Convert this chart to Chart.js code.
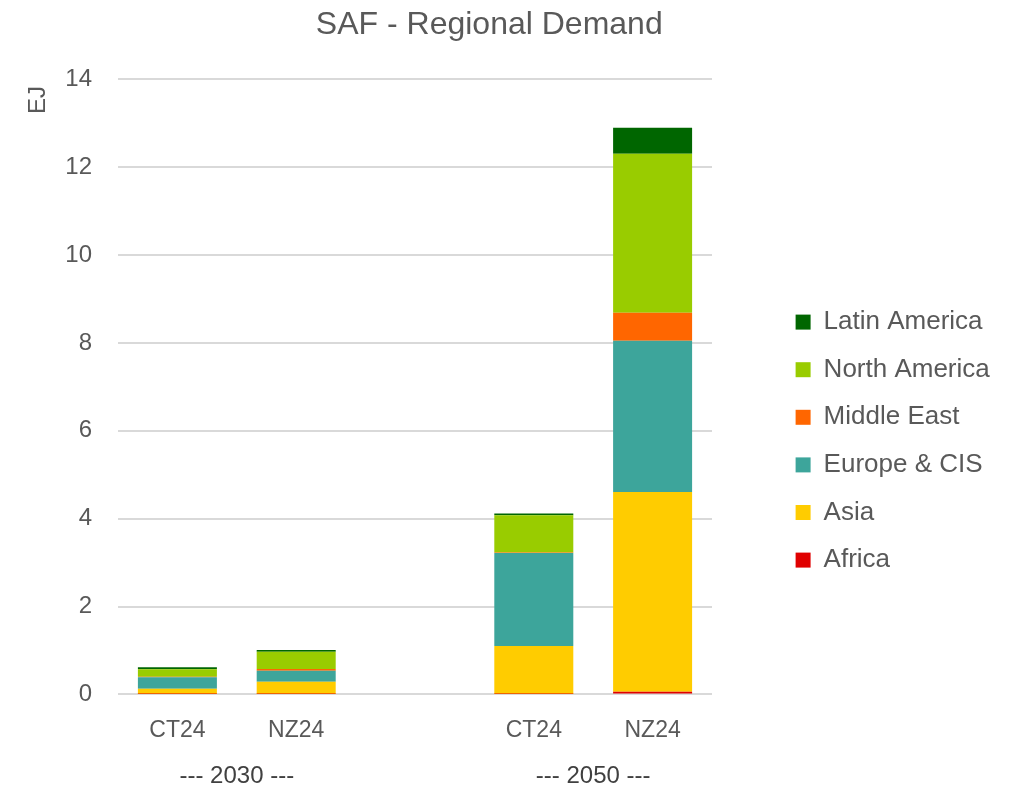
<!DOCTYPE html>
<html>
<head>
<meta charset="utf-8">
<script src="https://cdn.jsdelivr.net/npm/chart.js@4"></script>
<style>
  html, body { margin: 0; padding: 0; background: #ffffff; }
  #wrap { width: 1023px; height: 788px; }
</style>
</head>
<body>
<div id="wrap"><canvas id="c" width="1023" height="788"></canvas></div>
<script>
const categories = ['CT24', 'NZ24', '', 'CT24', 'NZ24'];
const groupLabels = ['--- 2030 ---', '--- 2050 ---'];
const seriesNames = ['Africa', 'Asia', 'Europe & CIS', 'Middle East', 'North America', 'Latin America'];
const africa       = [0.01, 0.01, null, 0.01, 0.06];
const asia         = [0.12, 0.28, null, 1.09, 4.55];
const europeCIS    = [0.26, 0.25, null, 2.12, 3.44];
const middleEast   = [0.01, 0.04, null, 0.01, 0.64];
const northAmerica = [0.17, 0.39, null, 0.85, 3.62];
const latinAmerica = [0.05, 0.04, null, 0.04, 0.59];
const yTicks = [0, 2, 4, 6, 8, 10, 12, 14];

const colors = ['#E00000', '#FFCC00', '#3DA59B', '#FF6600', '#99CC00', '#006600'];
const seriesValues = [africa, asia, europeCIS, middleEast, northAmerica, latinAmerica];

const FONT = '"Liberation Sans", Arial, sans-serif';
const TXT = '#595959';
const PLOT_RIGHT = 712;
const LEGEND_W = 1023 - PLOT_RIGHT - 62;

const legendWidthPlugin = {
  id: 'legendWidth',
  beforeLayout(chart) {
    const lg = chart.legend;
    if (lg && !lg.__fixed) {
      const orig = lg.fit;
      lg.fit = function () { orig.call(this); this.width = LEGEND_W; };
      lg.__fixed = true;
    }
  }
};

const groupLabelPlugin = {
  id: 'groupLabels',
  afterDraw(chart) {
    const x = chart.scales.x;
    const ctx = chart.ctx;
    ctx.save();
    ctx.font = '24px ' + FONT;
    ctx.fillStyle = '#404040';
    ctx.textAlign = 'center';
    ctx.textBaseline = 'middle';
    const pairs = [[0, 1], [3, 4]];
    pairs.forEach((p, i) => {
      const cx = (x.getPixelForValue(p[0]) + x.getPixelForValue(p[1])) / 2;
      ctx.fillText(groupLabels[i], cx, 776);
    });
    ctx.restore();
  }
};

new Chart(document.getElementById('c'), {
  type: 'bar',
  data: {
    labels: categories,
    datasets: seriesNames.map((n, i) => ({
      label: n,
      data: seriesValues[i],
      backgroundColor: colors[i],
      borderWidth: 0,
      categoryPercentage: 1.0,
      barPercentage: 0.665
    }))
  },
  plugins: [legendWidthPlugin, groupLabelPlugin],
  options: {
    responsive: false,
    animation: false,
    layout: { padding: { left: 0, right: 0, top: 0, bottom: 22 } },
    plugins: {
      title: {
        display: true,
        text: 'SAF - Regional Demand     ',
        color: TXT,
        font: { family: FONT, size: 32, weight: 'normal' },
        padding: { top: 6, bottom: 35 }
      },
      legend: {
        position: 'right',
        reverse: true,
        title: { display: true, text: ' ', font: { family: FONT, size: 26 }, padding: { top: 0, bottom: 85 } },
        labels: {
          color: TXT,
          font: { family: FONT, size: 26 },
          boxWidth: 15,
          boxHeight: 15,
          padding: 21.6
        }
      },
      tooltip: { enabled: false }
    },
    scales: {
      x: {
        stacked: true,
        grid: { display: false, drawTicks: false },
        border: { display: false },
        ticks: { color: TXT, font: { family: FONT, size: 23 }, padding: 22, maxRotation: 0 }
      },
      y: {
        stacked: true,
        min: 0,
        max: 14,
        afterBuildTicks: (s) => { s.ticks = yTicks.map(v => ({ value: v })); },
        afterFit: (s) => { s.width = 118; },
        grid: { color: '#D9D9D9', lineWidth: 2, drawTicks: false },
        border: { display: false },
        ticks: { color: TXT, font: { family: FONT, size: 24 }, padding: 26 },
        title: {
          display: true,
          text: 'EJ ',
          align: 'end',
          color: TXT,
          font: { family: FONT, size: 24 },
          padding: { top: 24, bottom: 0 }
        }
      },
      yR: {
        position: 'right',
        display: true,
        grid: { display: false, drawTicks: false },
        border: { display: false },
        ticks: { display: false },
        afterFit: (s) => {
          const lw = s.chart.legend ? s.chart.legend.width : LEGEND_W;
          s.width = Math.max(0, 1023 - PLOT_RIGHT - lw);
        }
      }
    }
  }
});
</script>
</body>
</html>
